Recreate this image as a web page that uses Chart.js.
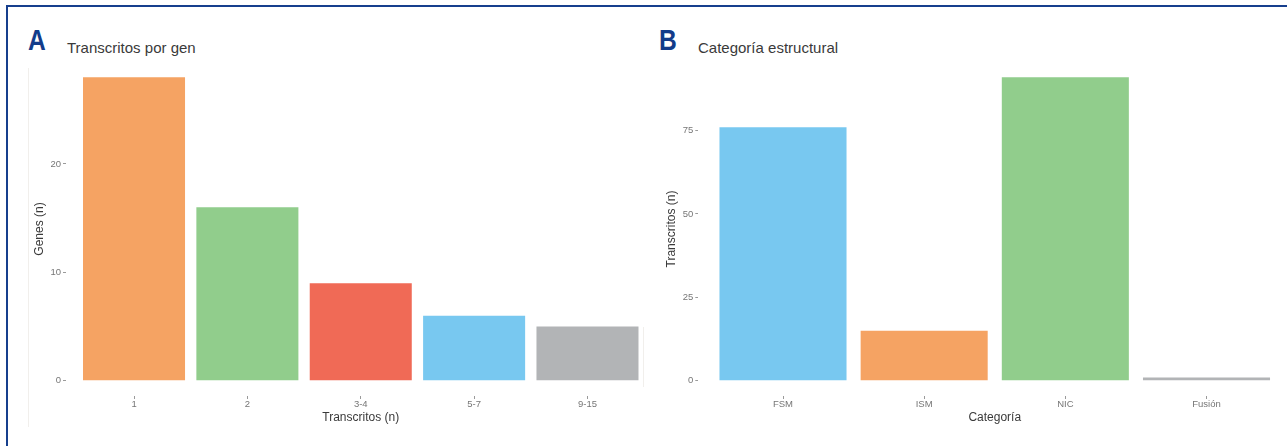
<!DOCTYPE html>
<html>
<head>
<meta charset="utf-8">
<script src="https://cdn.jsdelivr.net/npm/chart.js@4.4.1/dist/chart.umd.min.js"></script>
<style>
  html, body { margin: 0; padding: 0; background: #fff; width: 1287px; height: 446px; overflow: hidden; }
  body { position: relative; }
  #frame { position: absolute; left: 6px; top: 5px; right: -10px; bottom: -10px;
           border-top: 2px solid #163f8d; border-left: 2px solid #163f8d; }
  .edge { position: absolute; width: 1px; background: #f1efec; }
  .tag { position: absolute; top: 24.6px; font: bold 30px/30px "Liberation Sans", Arial, sans-serif;
         color: #123c8a; transform: scaleX(0.82); transform-origin: left top; }
  .ttl { position: absolute; top: 40px; font: 15px/15px "Liberation Sans", Arial, sans-serif; color: #3a3a3a; }
  canvas { position: absolute; top: 0; }
</style>
</head>
<body>
<div id="frame"></div>
<div class="edge" style="left:28px; top:68px; height:359px;"></div>
<div class="edge" style="left:643px; top:327px; height:60px;"></div>
<div class="tag" style="left:28px;">A</div>
<div class="ttl" style="left:67px;">Transcritos por gen</div>
<div class="tag" style="left:659px;">B</div>
<div class="ttl" style="left:698px;">Categoría estructural</div>
<canvas id="chartA" width="660" height="446" style="left:0px;"></canvas>
<canvas id="chartB" width="660" height="446" style="left:640px;"></canvas>
<script>
// Panel A: genes by number of transcripts
const genesCategories = ['1', '2', '3-4', '5-7', '9-15'];
const genesValues = [28, 16, 9, 6, 5];
const genesColors = ['#f5a363', '#91cd8c', '#f06a56', '#78c8f0', '#b2b4b6'];
const genesTicks = [0, 10, 20];

// Panel B: transcripts by structural category
const structCategories = ['FSM', 'ISM', 'NIC', 'Fusión'];
const structValues = [76, 15, 91, 1];
const structColors = ['#78c8f0', '#f5a363', '#91cd8c', '#b2b4b6'];
const structTicks = [0, 25, 50, 75];

const TICK_FONT = { family: '"Liberation Sans", Arial, sans-serif', size: 9.5 };
const TITLE_FONT = { family: '"Liberation Sans", Arial, sans-serif', size: 12 };
const TICK_COLOR = '#767676';
const TITLE_COLOR = '#3a3a3a';

// ggplot-like panel: discrete axis expanded by 0.6, continuous axis by 5%
function makeChart(id, cats, vals, colors, yTicks, xTitle, yTitle, box) {
  const pts = vals.map((v, i) => ({ x: i + 1, y: v }));
  const yMax = Math.max(...vals);
  const xPositions = cats.map((c, i) => i + 1);
  return new Chart(document.getElementById(id), {
    type: 'bar',
    data: { datasets: [{ data: pts, backgroundColor: colors, borderWidth: 0,
                         barPercentage: 0.9, categoryPercentage: 1 }] },
    options: {
      responsive: false,
      devicePixelRatio: 1,
      animation: false,
      layout: { padding: { left: 0, top: box.top, right: box.padRight, bottom: 0 } },
      plugins: { legend: { display: false }, tooltip: { enabled: false } },
      scales: {
        x: {
          type: 'linear', offset: false,
          min: 0.4, max: cats.length + 0.6,
          afterBuildTicks: s => { s.ticks = xPositions.map(v => ({ value: v })); },
          afterFit: s => { s.height = 446 - box.bottom; },
          border: { display: false },
          grid: { offset: false, drawOnChartArea: false, drawTicks: true, tickLength: 3, color: '#9a9a9a', lineWidth: 1 },
          ticks: { autoSkip: false, maxRotation: 0, padding: 0, color: TICK_COLOR, font: TICK_FONT,
                   callback: (v, i) => cats[i] },
          title: { display: true, text: xTitle, color: TITLE_COLOR, font: TITLE_FONT,
                   padding: { top: 0, bottom: 20.8 } }
        },
        y: {
          type: 'linear',
          min: -yMax * 0.05, max: yMax * 1.05,
          afterBuildTicks: s => { s.ticks = yTicks.map(v => ({ value: v })); },
          afterFit: s => { s.width = box.left; },
          border: { display: false },
          grid: { drawOnChartArea: false, drawTicks: true, tickLength: 3, color: '#9a9a9a', lineWidth: 1 },
          ticks: { padding: 2, color: TICK_COLOR, font: TICK_FONT },
          title: { display: true, text: yTitle, color: TITLE_COLOR, font: TITLE_FONT,
                   padding: { top: box.yTitlePad, bottom: 0 } }
        }
      }
    }
  });
}

makeChart('chartA', genesCategories, genesValues, genesColors, genesTicks,
  'Transcritos (n)', 'Genes (n)',
  { left: 66, top: 62, bottom: 396, padRight: 660 - 655.5, yTitlePad: 32.8 });

makeChart('chartB', structCategories, structValues, structColors, structTicks,
  'Categoría', 'Transcritos (n)',
  { left: 58.3, top: 62, bottom: 396, padRight: 660 - 651.2, yTitlePad: 24.8 });
</script>
</body>
</html>
